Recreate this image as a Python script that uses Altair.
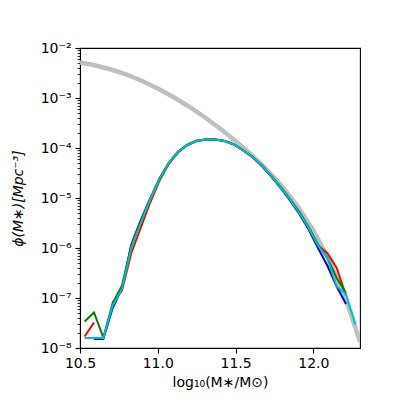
import altair as alt
import pandas as pd

# bin centres of the measured mass functions (log10 M*/Msun)
bins = [10.53, 10.59, 10.65, 10.71, 10.77, 10.83, 10.89, 10.95, 11.01, 11.07,
        11.13, 11.19, 11.25, 11.31, 11.37, 11.43, 11.49, 11.55, 11.61, 11.67,
        11.73, 11.79, 11.85, 11.91, 11.97, 12.03, 12.09, 12.15, 12.21, 12.27]

# log10 phi for each series (None = empty bin)
red_log = [-7.77, -7.49, None, -7.09, -6.85, -6.10, -5.60, -5.10, -4.66, -4.32,
           -4.09, -3.94, -3.86, -3.83, -3.83, -3.86, -3.93, -4.05, -4.18, -4.35,
           -4.56, -4.79, -5.03, -5.28, -5.60, -5.95, -6.10, -6.40, -6.95, None]
blue_log = [None, -7.82, -7.82, -7.20, -6.80, -5.93, -5.45, -5.02, -4.62, -4.30,
            -4.08, -3.94, -3.86, -3.83, -3.83, -3.86, -3.93, -4.05, -4.18, -4.36,
            -4.57, -4.80, -5.05, -5.32, -5.63, -6.00, -6.35, -6.77, -7.12, None]
green_log = [-7.47, -7.29, -7.79, -7.10, -6.75, -5.95, -5.47, -5.03, -4.62, -4.30,
             -4.07, -3.93, -3.85, -3.83, -3.83, -3.86, -3.93, -4.05, -4.18, -4.35,
             -4.56, -4.78, -5.02, -5.28, -5.58, -5.93, -6.20, -6.60, -6.90, None]
cyan_log = [-7.80, -7.80, -7.80, -7.15, -6.82, -6.00, -5.50, -5.04, -4.63, -4.30,
            -4.08, -3.94, -3.86, -3.83, -3.83, -3.86, -3.93, -4.05, -4.18, -4.35,
            -4.56, -4.79, -5.03, -5.30, -5.60, -5.95, -6.20, -6.77, -6.92, -7.53]

# reference (grey) curve
gray_x = [10.5, 10.6, 10.7, 10.8, 10.9, 11.0, 11.1, 11.2, 11.3, 11.4,
          11.5, 11.6, 11.7, 11.8, 11.9, 12.0, 12.1, 12.2, 12.25, 12.3]
gray_log = [-2.29, -2.35, -2.43, -2.53, -2.66, -2.81, -2.98, -3.17, -3.38, -3.61,
            -3.86, -4.13, -4.43, -4.77, -5.17, -5.65, -6.23, -6.95, -7.40, -7.88]

y_major = [1e-8, 1e-7, 1e-6, 1e-5, 1e-4, 1e-3, 1e-2]
y_minor = [m * d for d in [1e-8, 1e-7, 1e-6, 1e-5, 1e-4, 1e-3] for m in range(2, 10)]
x_ticks = [10.5, 11.0, 11.5, 12.0]


def series_frame(xs, logs):
    rows = []
    seg = 0
    for x, v in zip(xs, logs):
        if v is None:
            seg += 1
            continue
        rows.append({"x": x, "phi": 10 ** v, "seg": seg})
    return pd.DataFrame(rows)


FONT = "DejaVu Sans"
is_decade = "abs(log(datum.value)/LN10 - round(log(datum.value)/LN10)) < 0.01"
exp_idx = "(-round(log(datum.value)/LN10))"
y_label_expr = (f"{is_decade} ? '10\u207b' + substring('\u2070\u00b9\u00b2\u00b3\u2074\u2075\u2076\u2077\u2078\u2079', "
                f"{exp_idx}, {exp_idx} + 1) : ''")

x_axis = alt.Axis(values=x_ticks, format=".1f", grid=False, tickSize=5,
                  tickColor="black", tickWidth=1.1, domainColor="black", domainWidth=1.1,
                  labelFont=FONT, labelFontSize=14, labelColor="black", labelPadding=3,
                  labelFlush=False,
                  title="log\u2081\u2080(M\u2217/M\u2299)", titleFont=FONT, titleFontSize=14,
                  titleFontWeight="normal", titleColor="black", titlePadding=5)
y_axis = alt.Axis(values=y_major + y_minor, grid=False,
                  tickSize={"condition": {"test": is_decade, "value": 5}, "value": 3},
                  tickWidth={"condition": {"test": is_decade, "value": 1.1}, "value": 0.8},
                  tickColor="black", domainColor="black", domainWidth=1.1,
                  labelExpr=y_label_expr, labelOverlap=False, labelFlush=False, labelBound=False,
                  labelFont=FONT, labelFontSize=14, labelColor="black", labelPadding=4,
                  title="\u03d5(M\u2217)[Mpc\u207b\u00b3]", titleFont=FONT, titleFontSize=14,
                  titleFontWeight="normal", titleFontStyle="italic", titleColor="black",
                  titlePadding=15)

x_enc = alt.X("x:Q", scale=alt.Scale(domain=[10.5, 12.3], nice=False, zero=False), axis=x_axis)
y_enc = alt.Y("phi:Q", scale=alt.Scale(type="log", domain=[1e-8, 1e-2], nice=False), axis=y_axis)


def layer(df, color, width):
    return alt.Chart(df).mark_line(clip=True, strokeWidth=width, color=color).encode(
        x=x_enc, y=y_enc, detail="seg:N")


gray_df = series_frame(gray_x, gray_log)
chart = alt.layer(
    layer(gray_df, "#bfbfbf", 4.5),
    layer(series_frame(bins, red_log), "#ff0000", 2),
    layer(series_frame(bins, blue_log), "#0000ff", 2),
    layer(series_frame(bins, green_log), "#008000", 2),
    layer(series_frame(bins, cyan_log), "#00bfbf", 2),
).properties(
    width=280, height=300, autosize="none",
    padding={"left": 80, "top": 48, "right": 40, "bottom": 52},
    background="white",
).configure_view(stroke="black", strokeWidth=1.1)

chart.save("out.html", embed_options={"renderer": "svg", "actions": False})
